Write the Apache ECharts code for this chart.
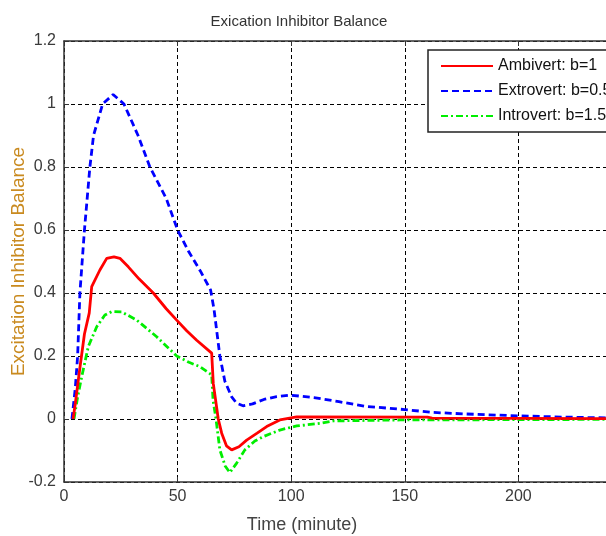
<!DOCTYPE html>
<html>
<head>
<meta charset="utf-8">
<script src="https://cdn.jsdelivr.net/npm/echarts@6/dist/echarts.min.js"></script>
<style>
html,body{margin:0;padding:0;background:#fff;}
#chart{width:606px;height:536px;}
</style>
</head>
<body>
<div id="chart"></div>
<script>
// ---- data (time in minutes, balance values) ----
const seriesNames = ['Ambivert: b=1', 'Extrovert: b=0.5', 'Introvert: b=1.5'];
const xTicks = [0, 50, 100, 150, 200, 250];
const yTicks = [-0.2, 0, 0.2, 0.4, 0.6, 0.8, 1, 1.2];

const ambivert = [
  [4,0],[5,0.05],[6.7,0.146],[9,0.27],[11.1,0.336],[12.2,0.42],[15.8,0.473],[18.8,0.51],
  [22,0.515],[24.6,0.51],[28.3,0.483],[33,0.445],[39.3,0.40],[45,0.35],[49.6,0.314],
  [54,0.28],[58.4,0.25],[65,0.209],[65.7,0.113],[67.9,0],[69.4,-0.045],[71.5,-0.085],
  [73.8,-0.098],[77,-0.088],[80.4,-0.067],[85,-0.045],[89.2,-0.024],[95,-0.003],
  [102.4,0.007],[160,0.006],[162,0.003],[250,0.001]
];
const extrovert = [
  [3.5,0],[5,0.1],[6,0.2],[7,0.4],[9,0.6],[11.4,0.8],[13,0.9],[17,1.0],[21.6,1.03],
  [26.4,1.0],[32.6,0.9],[37.8,0.8],[45,0.7],[50,0.6],[55,0.53],[60,0.47],[64.5,0.41],
  [66,0.35],[68.6,0.2],[70.8,0.12],[73.8,0.07],[76,0.05],[78.8,0.042],[83,0.048],
  [88,0.062],[93.6,0.071],[99.4,0.076],[110,0.068],[121,0.055],[133,0.04],[150,0.03],
  [162,0.021],[177,0.016],[200,0.01],[220,0.006],[250,0.002]
];
const introvert = [
  [4.4,0],[6,0.07],[7.8,0.134],[10.7,0.23],[14.4,0.293],[18,0.33],[21,0.341],[25.4,0.34],
  [32,0.314],[40.8,0.261],[49.6,0.2],[55,0.18],[59.8,0.166],[65,0.14],[65.6,0.06],
  [66.9,0],[68.6,-0.098],[71,-0.15],[73,-0.17],[76,-0.14],[79.6,-0.098],[84,-0.07],
  [87.7,-0.056],[95,-0.035],[102.4,-0.022],[112.6,-0.014],[118.5,-0.006],[148,-0.003],
  [200,-0.002],[250,-0.001]
];

const chart = echarts.init(document.getElementById('chart'), null, {renderer:'canvas'});
const font = 'Liberation Sans, Arial, sans-serif';
const axisLineStyle = {color:'#333', width:1.5};

chart.setOption({
  backgroundColor:'#fff',
  animation:false,
  textStyle:{fontFamily:font},
  grid:{left:64, top:41, height:441, width:568, containLabel:false, outerBoundsMode:'none'},
  graphic:[
    {type:'text', x:299, y:22, style:{text:'Exication Inhibitor Balance', fill:'#333', font:'15px ' + font, textAlign:'center', textVerticalAlign:'middle'}},
    {type:'text', x:302, y:525, style:{text:'Time (minute)', fill:'#444', font:'18px ' + font, textAlign:'center', textVerticalAlign:'middle'}}
  ],
  legend:{
    orient:'vertical',
    left:428, top:50,
    padding:[8,12,8,12],
    itemWidth:52, itemHeight:14, itemGap:9,
    backgroundColor:'#fff',
    borderColor:'#222', borderWidth:1.5,
    itemStyle:{color:'transparent', borderWidth:0, opacity:0},
    textStyle:{color:'#111', fontSize:16, fontFamily:font},
    data:seriesNames
  },
  xAxis:[{
    type:'value', min:xTicks[0], max:xTicks[xTicks.length-1], interval:50,
    axisLine:{show:true, onZero:false, lineStyle:axisLineStyle},
    axisTick:{show:true, inside:true, length:5, lineStyle:{color:'#333'}},
    axisLabel:{color:'#3a3a3a', fontSize:16, margin:7, fontFamily:font},
    splitLine:{show:true, lineStyle:{color:'#000', type:[4,3], width:1}}
  },{
    type:'value', position:'top', min:xTicks[0], max:xTicks[xTicks.length-1], interval:50,
    axisLine:{show:true, onZero:false, lineStyle:axisLineStyle},
    axisTick:{show:true, inside:true, length:5, lineStyle:{color:'#333'}},
    axisLabel:{show:false}, splitLine:{show:false}
  }],
  yAxis:{
    type:'value', min:yTicks[0], max:yTicks[yTicks.length-1], interval:0.2,
    name:'Excitation Inhibitor Balance', nameLocation:'middle', nameGap:36, nameMoveOverlap:false,
    nameTextStyle:{color:'#c98a1f', fontSize:19, fontFamily:font},
    axisLine:{show:true, onZero:false, lineStyle:axisLineStyle},
    axisTick:{show:true, inside:true, length:5, lineStyle:{color:'#333'}},
    axisLabel:{color:'#3a3a3a', fontSize:16, margin:8, fontFamily:font,
      formatter:v => String(Math.round(v*10)/10)},
    splitLine:{show:true, lineStyle:{color:'#000', type:[4,3], width:1}}
  },
  series:[
    {name:seriesNames[0], type:'line', data:ambivert, symbol:'none', showSymbol:false, z:4,
      lineStyle:{color:'#ff0000', width:2.8, type:'solid'}, itemStyle:{color:'#ff0000'}},
    {name:seriesNames[1], type:'line', data:extrovert, symbol:'none', showSymbol:false, z:3,
      lineStyle:{color:'#0000ff', width:2.8, type:[7,4]}, itemStyle:{color:'#0000ff'}},
    {name:seriesNames[2], type:'line', data:introvert, symbol:'none', showSymbol:false, z:3,
      lineStyle:{color:'#00ee00', width:2.8, type:[7,3,2,3]}, itemStyle:{color:'#00ee00'}}
  ]
});
</script>
</body>
</html>
